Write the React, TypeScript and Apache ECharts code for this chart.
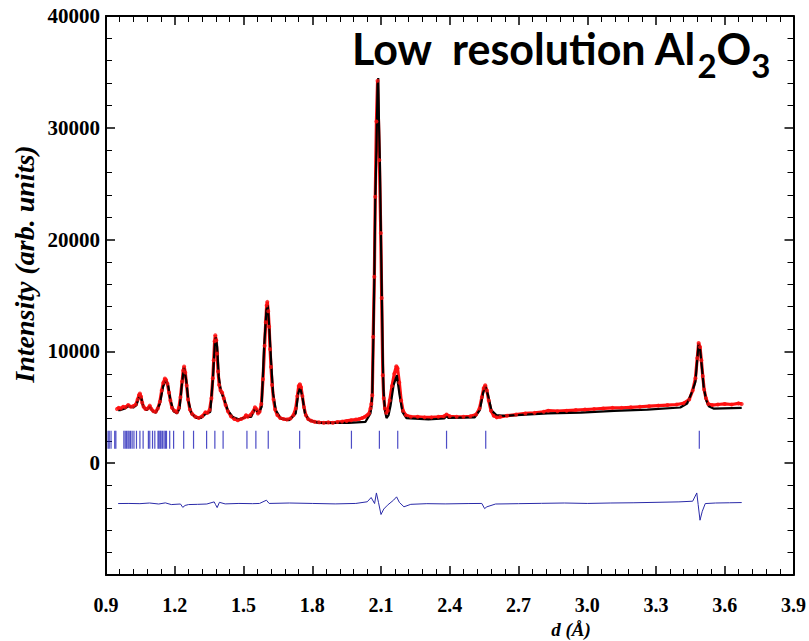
import React, { useEffect, useRef } from "react";
import * as echarts from "echarts";

// Reflection (tick mark) positions, d in Å
const reflectionD: number[] = [
  0.909, 0.914, 0.922, 0.938, 0.943, 0.978, 0.984, 0.99, 0.996, 1.001, 1.007,
  1.014, 1.022, 1.033, 1.048, 1.062, 1.085, 1.091, 1.103, 1.113, 1.127, 1.131,
  1.136, 1.14, 1.146, 1.153, 1.159, 1.164, 1.178, 1.195, 1.239, 1.282, 1.339,
  1.375, 1.411, 1.515, 1.554, 1.608, 1.745, 1.971, 2.093, 2.173, 2.386, 2.557,
  3.489,
];
const reflectionLevel = 2100;

// Observed profile [d, intensity]
const observed: [number, number][] = [
  [0.948, 4850], [0.955, 4950], [0.965, 4900], [0.975, 5050], [0.985, 5000],
  [0.997, 5200], [1.008, 5050], [1.019, 5100], [1.03, 5250], [1.038, 5700],
  [1.044, 6100], [1.048, 6240], [1.053, 5950], [1.058, 5400], [1.064, 5050],
  [1.072, 4850], [1.082, 4900], [1.091, 5150], [1.098, 4850], [1.107, 4650],
  [1.117, 4600], [1.126, 4900], [1.135, 5500], [1.143, 6500], [1.15, 7200],
  [1.157, 7580], [1.162, 7450], [1.168, 7100], [1.175, 6300], [1.181, 5600],
  [1.188, 4950], [1.198, 4700], [1.209, 4550], [1.218, 4950], [1.225, 5900],
  [1.232, 7300], [1.237, 8300], [1.241, 8650], [1.246, 8100], [1.252, 6950],
  [1.258, 5700], [1.266, 4800], [1.276, 4400], [1.29, 4150], [1.305, 4050],
  [1.32, 4200], [1.334, 4550], [1.343, 4500], [1.352, 4750], [1.36, 5800],
  [1.366, 7600], [1.37, 9200], [1.374, 10900], [1.377, 11450], [1.381, 11000],
  [1.385, 9800], [1.389, 8200], [1.394, 7000], [1.4, 6500], [1.407, 6300],
  [1.414, 5800], [1.422, 5200], [1.432, 4650], [1.445, 4200], [1.46, 3950],
  [1.475, 3850], [1.49, 3950], [1.505, 4100], [1.511, 4300], [1.518, 4150],
  [1.53, 4300], [1.54, 4550], [1.55, 5000], [1.556, 4850], [1.563, 4450],
  [1.57, 4600], [1.578, 5300], [1.585, 7500], [1.592, 10500], [1.597, 12600],
  [1.601, 14100], [1.604, 14430], [1.608, 13600], [1.612, 12200], [1.616, 10200],
  [1.62, 8600], [1.625, 7000], [1.631, 5700], [1.638, 4800], [1.648, 4300],
  [1.66, 4050], [1.675, 3950], [1.69, 3900], [1.705, 4000], [1.718, 4300],
  [1.728, 4900], [1.735, 6000], [1.741, 6900], [1.746, 7070], [1.751, 6800],
  [1.757, 6000], [1.764, 5000], [1.772, 4300], [1.782, 3950], [1.795, 3800],
  [1.81, 3700], [1.83, 3650], [1.85, 3620], [1.87, 3650], [1.89, 3620],
  [1.91, 3680], [1.93, 3720], [1.95, 3780], [1.97, 3850], [1.99, 3900],
  [2.005, 3950], [2.018, 4050], [2.03, 4150], [2.04, 4300], [2.048, 4450],
  [2.054, 4900], [2.058, 5300], [2.062, 6085], [2.066, 11300], [2.071, 16670],
  [2.075, 23830], [2.08, 30560], [2.085, 34210], [2.093, 27110], [2.099, 20580],
  [2.103, 14770], [2.108, 7870], [2.112, 5800], [2.117, 4900], [2.123, 4500],
  [2.13, 4700], [2.138, 5600], [2.148, 6900], [2.158, 8000], [2.167, 8680],
  [2.172, 8500], [2.18, 7200], [2.188, 5600], [2.196, 4700], [2.208, 4300],
  [2.23, 4150], [2.26, 4150], [2.29, 4100], [2.32, 4100], [2.35, 4150],
  [2.375, 4200], [2.386, 4350], [2.4, 4200], [2.43, 4150], [2.46, 4150],
  [2.49, 4200], [2.515, 4350], [2.53, 4900], [2.54, 5900], [2.548, 6700],
  [2.555, 6980], [2.562, 6500], [2.57, 5600], [2.58, 4700], [2.592, 4250],
  [2.605, 4100], [2.62, 4150], [2.65, 4250], [2.69, 4350], [2.73, 4450],
  [2.77, 4500], [2.81, 4600], [2.83, 4700], [2.87, 4650], [2.91, 4700],
  [2.95, 4750], [2.99, 4800], [3.03, 4850], [3.07, 4900], [3.11, 4950],
  [3.15, 4950], [3.19, 5000], [3.23, 5050], [3.27, 5100], [3.31, 5150],
  [3.35, 5200], [3.39, 5250], [3.42, 5350], [3.445, 5700], [3.46, 6500],
  [3.472, 7600], [3.48, 9400], [3.486, 10750], [3.492, 10400], [3.498, 9200],
  [3.504, 7800], [3.51, 6600], [3.518, 5800], [3.528, 5300], [3.545, 5200],
  [3.57, 5250], [3.6, 5300], [3.63, 5250], [3.66, 5350], [3.674, 5300],
];

// Calculated profile [d, intensity]
const calculated: [number, number][] = [
  [0.953, 4740], [0.961, 4740], [0.983, 4890], [0.997, 5100], [1.019, 4980],
  [1.033, 5190], [1.042, 5800], [1.048, 6085], [1.054, 5800], [1.062, 5100],
  [1.077, 4740], [1.091, 5040], [1.103, 4680], [1.117, 4500], [1.135, 5340],
  [1.149, 6830], [1.159, 7430], [1.171, 6980], [1.181, 5640], [1.195, 4650],
  [1.21, 4450], [1.221, 4890], [1.23, 6830], [1.24, 8560], [1.25, 7430],
  [1.259, 5640], [1.272, 4450], [1.294, 4060], [1.316, 4060], [1.337, 4450],
  [1.355, 4590], [1.366, 7430], [1.375, 10710], [1.379, 11250], [1.385, 10410],
  [1.392, 7720], [1.402, 6380], [1.417, 5640], [1.431, 4740], [1.453, 4140],
  [1.482, 3910], [1.511, 4140], [1.533, 4140], [1.551, 4890], [1.566, 4450],
  [1.579, 5040], [1.59, 10410], [1.6, 13690], [1.606, 14140], [1.613, 11900],
  [1.621, 8920], [1.629, 6240], [1.641, 4740], [1.663, 4000], [1.699, 3850],
  [1.728, 4450], [1.739, 6240], [1.747, 6770], [1.757, 5930], [1.768, 4450],
  [1.786, 3850], [1.829, 3610], [1.959, 3610], [2.032, 3700], [2.054, 4450],
  [2.058, 5000], [2.062, 6260], [2.067, 11450], [2.071, 16820], [2.075, 23530],
  [2.08, 28000], [2.085, 33830], [2.088, 34450], [2.091, 30700], [2.095, 27100],
  [2.1, 19950], [2.104, 14590], [2.108, 9220], [2.111, 6530], [2.117, 4740],
  [2.124, 4030], [2.133, 4300], [2.142, 5190], [2.155, 6980], [2.169, 7870],
  [2.181, 6085], [2.194, 4560], [2.211, 4030], [2.307, 3910], [2.376, 4000],
  [2.385, 4200], [2.394, 4050], [2.509, 4090], [2.531, 4740], [2.545, 6240],
  [2.555, 6890], [2.567, 6085], [2.582, 4740], [2.603, 4300], [2.64, 4230],
  [2.828, 4450], [2.972, 4530], [3.117, 4680], [3.262, 4800], [3.406, 4980],
  [3.436, 5340], [3.457, 6380], [3.472, 7270], [3.48, 9300], [3.486, 10710],
  [3.492, 10300], [3.5, 8620], [3.508, 6830], [3.519, 5640], [3.53, 5100],
  [3.551, 4890], [3.674, 4950],
];

// Difference curve [d, intensity]
const difference: [number, number][] = [
  [0.953, -3610], [1.0, -3600], [1.048, -3620], [1.09, -3560], [1.13, -3650],
  [1.159, -3550], [1.185, -3700], [1.225, -3650], [1.235, -3950], [1.245, -3780],
  [1.26, -3700], [1.3, -3680], [1.34, -3650], [1.372, -3460], [1.378, -3700],
  [1.385, -3970], [1.395, -3500], [1.42, -3640], [1.48, -3600], [1.54, -3620],
  [1.57, -3600], [1.6, -3310], [1.612, -3600], [1.7, -3560], [1.8, -3600],
  [1.9, -3640], [1.99, -3600], [2.04, -3450], [2.057, -3070], [2.072, -3610],
  [2.08, -2660], [2.089, -3500], [2.1, -4590], [2.112, -4100], [2.128, -3760],
  [2.155, -3300], [2.168, -3010], [2.18, -3500], [2.2, -3900], [2.23, -3680],
  [2.3, -3620], [2.38, -3640], [2.48, -3610], [2.54, -3600], [2.552, -4060],
  [2.562, -3900], [2.6, -3650], [2.7, -3620], [2.8, -3590], [2.9, -3560],
  [3.0, -3600], [3.1, -3560], [3.2, -3540], [3.3, -3500], [3.4, -3460],
  [3.46, -3400], [3.478, -2660], [3.484, -3700], [3.492, -5100], [3.502, -4300],
  [3.515, -3610], [3.56, -3560], [3.62, -3540], [3.674, -3520],
];

const xMin = 0.9;
const xMax = 3.9;
const xStep = 0.3;
const yMin = -10000;
const yMax = 40000;
const yStep = 10000;

const serif = '"Liberation Serif", "Times New Roman", serif';
const sans = "Lato, 'Open Sans', sans-serif";

export default function App() {
  const ref = useRef<HTMLDivElement>(null);
  useEffect(() => {
    if (!ref.current) return;
    const chart = echarts.init(ref.current, undefined, { renderer: "svg" });
    const axisLine = { show: true, onZero: false, lineStyle: { color: "#000", width: 2 } };
    const axisTick = { show: true, inside: true, length: 9, lineStyle: { color: "#000", width: 1.5 } };
    const minorTick = { show: true, splitNumber: 5, length: 6, lineStyle: { color: "#000", width: 1 } };
    const labelStyle = { fontFamily: serif, fontWeight: "bold" as const, fontSize: 20, color: "#000" };
    chart.setOption({
      animation: false,
      backgroundColor: "#fff",
      grid: { left: 106, right: 12, top: 16, bottom: 66, containLabel: false },
      xAxis: [
        {
          type: "value", min: xMin, max: xMax, interval: xStep, position: "bottom",
          axisLine, axisTick, minorTick, splitLine: { show: false },
          axisLabel: { ...labelStyle, margin: 20, formatter: (v: number) => v.toFixed(1) },
        },
        {
          type: "value", min: xMin, max: xMax, interval: xStep, position: "top",
          axisLine, axisTick, minorTick, splitLine: { show: false }, axisLabel: { show: false },
        },
      ],
      yAxis: [
        {
          type: "value", min: yMin, max: yMax, interval: yStep, position: "left",
          axisLine, axisTick, minorTick, splitLine: { show: false },
          axisLabel: { ...labelStyle, fontSize: 21, margin: 6, formatter: (v: number) => (v < 0 ? "" : String(v)) },
        },
        {
          type: "value", min: yMin, max: yMax, interval: yStep, position: "right",
          axisLine, axisTick, minorTick, splitLine: { show: false }, axisLabel: { show: false },
        },
      ],
      series: [
        {
          name: "reflections", type: "scatter", symbol: "rect", symbolSize: [1.2, 18], z: 2,
          itemStyle: { color: "#2020b8" },
          data: reflectionD.map((d) => [d, reflectionLevel]),
        },
        {
          name: "observed", type: "line", showSymbol: false, z: 2,
          lineStyle: { color: "#ff1010", width: 3.2 },
          data: observed,
        },
        {
          name: "calculated", type: "line", showSymbol: false, z: 3,
          lineStyle: { color: "#000", width: 2.2 },
          data: calculated,
        },
        {
          name: "observed points", type: "scatter", symbol: "circle", symbolSize: 4, z: 4,
          itemStyle: { color: "#ff1010" },
          data: observed,
        },
        {
          name: "difference", type: "line", showSymbol: false, z: 3,
          lineStyle: { color: "#2a2aa8", width: 1 },
          data: difference,
        },
      ],
      graphic: [
        {
          type: "text", left: 352, top: 27,
          style: {
            text: "{a|Low  resolution Al}{b|2}{a|O}{b|3}",
            fill: "#000",
            rich: {
              a: { fontFamily: sans, fontWeight: "bold", fontSize: 43, fill: "#000", verticalAlign: "top" },
              b: { fontFamily: sans, fontWeight: "bold", fontSize: 33, fill: "#000", verticalAlign: "top", padding: [21, 0, 0, 0] },
            },
          },
        },
        {
          type: "text", x: 24, y: 264, rotation: Math.PI / 2,
          style: {
            text: "Intensity (arb. units)",
            fontFamily: serif, fontStyle: "italic", fontWeight: "bold", fontSize: 28,
            fill: "#000",
            align: "center", verticalAlign: "middle",
            textAlign: "center", textVerticalAlign: "middle",
          },
        },
        {
          type: "text", x: 571, y: 620,
          style: {
            text: "d (Å)",
            fontFamily: serif, fontStyle: "italic", fontWeight: "bold", fontSize: 19,
            fill: "#000",
            align: "center", verticalAlign: "top",
            textAlign: "center", textVerticalAlign: "top",
          },
        },
      ],
    });
    return () => chart.dispose();
  }, []);
  return (
    <div
      ref={ref}
      style={{ position: "fixed", left: 0, top: 0, width: 809, height: 641, background: "#fff" }}
    />
  );
}
